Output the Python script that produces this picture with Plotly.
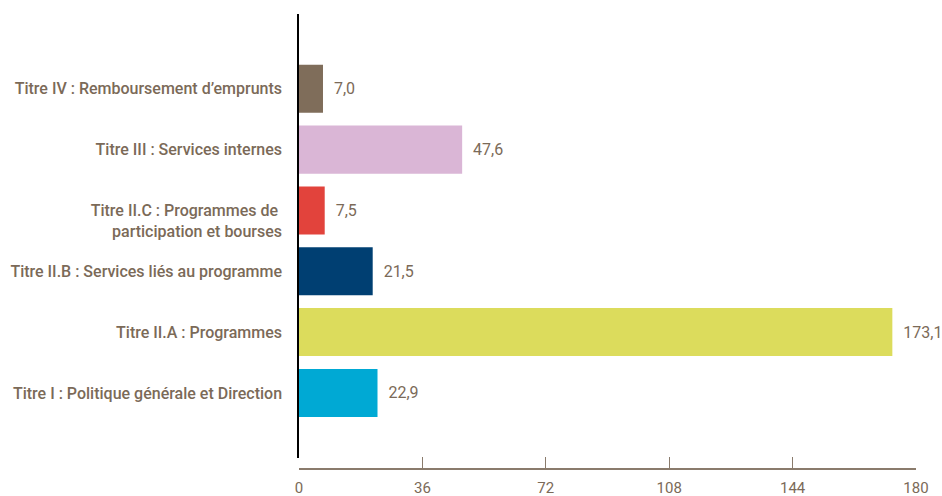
import plotly.graph_objects as go

categories = [
    "Titre I : Politique générale et Direction",
    "Titre II.A : Programmes",
    "Titre II.B : Services liés au programme",
    "\u00a0<br>Titre II.C : Programmes de\u00a0<br>participation et bourses",
    "Titre III : Services internes",
    "Titre IV : Remboursement d\u2019emprunts",
]
values = [22.9, 173.1, 21.5, 7.5, 47.6, 7.0]
colors = ["#00a9d4", "#dcdc5c", "#003f72", "#e2433c", "#dab6d6", "#7f6d5a"]
tick_values = [0, 36, 72, 108, 144, 180]

TXT = "#7b6a58"
FONT = "Roboto, sans-serif"

fig = go.Figure(
    go.Bar(
        y=categories,
        x=values,
        orientation="h",
        marker=dict(color=colors, line=dict(width=0)),
        texttemplate="  %{x:.1f}",
        textposition="outside",
        cliponaxis=False,
        textfont=dict(family=FONT, size=16, color=TXT),
        hoverinfo="skip",
    )
)

fig.update_layout(
    width=942,
    height=496,
    margin=dict(l=299, r=26, t=14, b=27),
    paper_bgcolor="white",
    plot_bgcolor="white",
    separators=", ",
    bargap=0.21,
    showlegend=False,
    font=dict(family=FONT, color=TXT),
)

fig.update_xaxes(
    range=[0, 180],
    tickvals=tick_values,
    ticks="inside",
    ticklen=11,
    tickcolor="#8a7b6c",
    tickwidth=1,
    showline=True,
    linecolor="#8a7b6c",
    linewidth=1.5,
    showgrid=False,
    zeroline=False,
    tickfont=dict(family=FONT, size=15, color=TXT),
    ticklabelstandoff=5,
    anchor="free",
    position=0,
    automargin=False,
    fixedrange=True,
)

fig.update_yaxes(
    domain=[0.0242, 1],
    range=[-1.07, 6.23],
    showline=True,
    linecolor="black",
    linewidth=1.5,
    showgrid=False,
    zeroline=False,
    ticks="",
    ticklabelstandoff=12,
    tickfont=dict(family=FONT, size=16, color=TXT, weight=500),
    automargin=False,
    fixedrange=True,
)

fig.write_html("out.html")
